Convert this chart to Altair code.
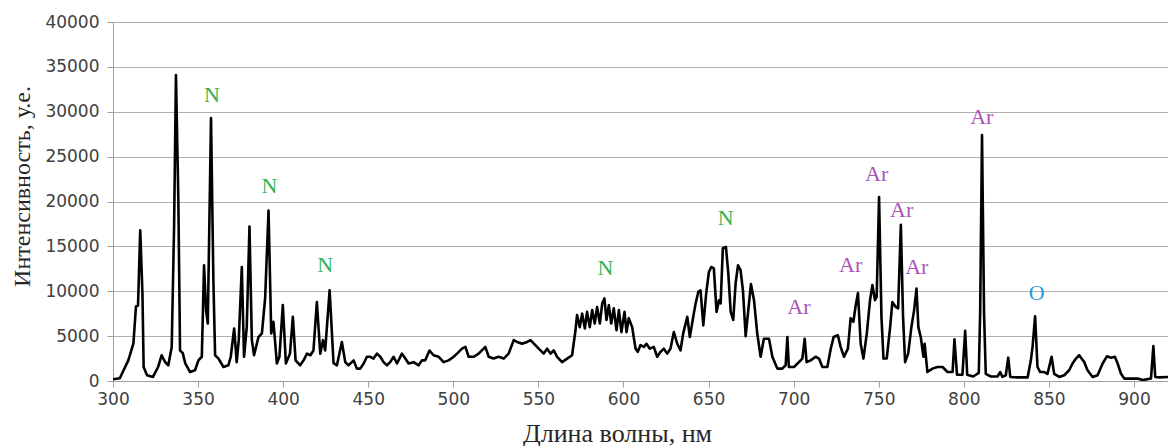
import altair as alt
import pandas as pd

# Spectrum (wavelength in nm, intensity in a.u.)
wavelength = [
    300, 304, 309, 312, 313.5, 314.7, 316, 317.3, 318, 320, 323.5, 326.5, 328.6, 330.6, 332.5,
    334.5, 335.9, 337, 338.4, 339.4, 341, 342.4, 345.3, 348.2, 350.2, 352.2, 353.5, 354.7, 355.7,
    357.6, 359, 360, 362, 364.9, 367.8, 369.2, 371.2, 372.7, 373.9, 375.7, 377, 378.6, 380.2,
    381.6, 382.9, 385.5, 387.5, 389.4, 391.4, 393, 394.3, 396.3, 397.8, 399.8, 401.6, 404, 405.7,
    407.3, 410, 412, 414, 416, 417.8, 419.8, 421.8, 423.4, 424.7, 427.3, 429.6, 431.6, 434.5,
    436.5, 438.4, 441.4, 443.3, 445.3, 447.3, 449.2, 451.2, 453.1, 455.1, 457.1, 459, 461, 462.9,
    464.9, 466.9, 469.8, 471.8, 473.7, 476.7, 479.6, 481.6, 483.5, 486, 488.4, 491.4, 494.3,
    497.2, 500.2, 502.2, 505.1, 507.1, 509, 512, 514.9, 517.8, 518.8, 520.8, 523.7, 526.6, 529.6,
    532.5, 535.5, 537.5, 540.4, 543.4, 545.3, 548.2, 550.2, 553.1, 555.1, 557.1, 559, 561, 563.9,
    566.9, 569.8, 571.8, 572.7, 574.3, 575.7, 577.3, 578.6, 580.2, 581.6, 583.1, 584.5, 586.1,
    587.5, 588.8, 590, 591.4, 592.8, 594.3, 595.9, 597.3, 598.8, 600.6, 601.8, 603.1, 605.1,
    607.1, 608.4, 610, 612, 613.5, 615.5, 617.8, 619.8, 621.8, 623.7, 625.7, 627.6, 629.6, 631.6,
    633.5, 635.1, 637.5, 639, 641, 642.4, 644, 645.3, 646.9, 648.6, 650.2, 651.6, 653.1, 654.7,
    656.1, 657.1, 658.4, 660.2, 661.6, 663, 664.5, 665.9, 667.3, 668.8, 670.2, 671.8, 674.9,
    676.7, 678.6, 680.6, 682.5, 685.5, 687.5, 690.4, 693.3, 695.3, 696.3, 697.2, 700.2, 703.1,
    705.1, 706.5, 707.6, 710, 712.9, 714.9, 716.9, 719.8, 721.8, 723.5, 726, 727.6, 729.6, 731.9,
    733.5, 735.1, 736.5, 737.8, 739.4, 741, 743, 744.9, 746.3, 747.8, 748.8, 750.2, 751.6, 752.8,
    754.7, 756.7, 758, 760, 761.4, 763, 764.3, 765.5, 767.3, 769.2, 770.8, 772.2, 773.3, 774.7,
    776.3, 777, 778.6, 781.6, 784.5, 787.5, 790.4, 793.4, 794.5, 796, 799.2, 800.8, 802, 805.5,
    808.8, 809.6, 810.7, 811.9, 812.9, 815.9, 819.8, 821.4, 822.7, 824.7, 826.1, 827.3, 831.6,
    837.5, 839.4, 840.4, 841.9, 843.3, 844.9, 847.3, 849.2, 851.6, 853.1, 856.1, 859, 861.9,
    863.9, 865.9, 867.8, 869.2, 870.8, 872.7, 875.7, 878.6, 881.6, 884.1, 886.5, 888.8, 890.4,
    892.4, 894.3, 902.2, 905.1, 910, 911.4, 912.5, 914.9, 920,
]
intensity = [
    200, 300, 2300, 4200, 8300, 8400, 16800, 9800, 1560, 640, 450, 1560, 2870, 2120, 1750,
    3800, 17200, 34100, 20200, 3400, 3100, 2000, 1000, 1200, 2300, 2700, 12900, 7900, 6400,
    29300, 11200, 2870, 2500, 1560, 1750, 2700, 5850, 2100, 4550, 12700, 2700, 6000, 17200,
    4550, 2870, 4900, 5300, 9200, 19000, 5300, 6600, 1950, 2700, 8450, 1950, 3050, 7150,
    2300, 1750, 2300, 3050, 2870, 3400, 8800, 3050, 4550, 3400, 10100, 2000, 1750, 4350,
    2100, 1750, 2300, 1380, 1380, 1950, 2700, 2700, 2500, 3050, 2700, 2100, 1750, 2100,
    2700, 1950, 3050, 2500, 1950, 2100, 1750, 2300, 2300, 3400, 2870, 2700, 2100,
    2300, 2700, 3050, 3600, 3800, 2700, 2700, 3050, 3600, 3800, 2700, 2500, 2700, 2500,
    3050, 4550, 4350, 4150, 4350, 4550, 4000, 3600, 3050, 3600, 3050, 3400, 2700, 2100,
    2500, 2870, 5650, 7350, 6000, 7500, 5850, 7700, 6000, 7900, 6400, 8250, 6400,
    8650, 9200, 6800, 8450, 6400, 8100, 5650, 7900, 5450, 7700, 5450, 7000, 6000,
    3600, 3250, 4000, 3800, 4150, 3600, 3800, 2700, 3250, 3600, 3050, 3600, 5450, 4150,
    3400, 5300, 7150, 4900, 7150, 8650, 9950, 10100, 6200, 9750, 12150, 12700, 12550, 7700,
    9000, 8650, 14800, 14950, 12000, 7700, 6800, 10900, 12900, 12350, 10100, 5000, 10800,
    9000, 5300, 2700, 4700, 4700, 2700, 1380, 1380, 1750, 4900, 1560, 1560, 2100,
    2500, 4700, 2100, 2300, 2700, 2500, 1560, 1560, 3600, 4900, 5100, 3800, 2700, 3600,
    7000, 6600, 8450, 9800, 4150, 2500, 5300, 9000, 10700, 9000, 9400, 20500, 7150, 2500,
    2500, 6000, 8800, 8250, 8100, 17400, 7150, 2100, 3050, 6000, 7900, 10300, 6000, 4900,
    2700, 4150, 1000, 1380, 1560, 1560, 1000, 1000, 4650, 700, 700, 5600, 700, 500,
    900, 7500, 27400, 7500, 800, 500, 500, 1000, 450, 640, 2600, 450, 400,
    400, 2300, 3800, 7200, 1560, 1000, 1000, 800, 2700, 800, 450, 640, 1200,
    1950, 2500, 2870, 2500, 2100, 1200, 450, 640, 1950, 2750, 2600, 2700, 1950,
    800, 270, 270, 100, 270, 3900, 450, 400, 450,
]

# Line identifications
label_text = ["N", "N", "N", "N", "N", "Ar", "Ar", "Ar", "Ar", "Ar", "Ar", "O"]
label_element = ["N", "N", "N", "N", "N", "Ar", "Ar", "Ar", "Ar", "Ar", "Ar", "O"]
label_wavelength = [358.1, 392, 424.7, 589.4, 660, 703.1, 733.5, 748.8, 763.5, 772.4, 810.6, 842.9]
label_intensity = [31880, 21730, 12900, 12540, 18120, 8190, 12910, 23070, 19050, 12720, 29400, 9820]

x_ticks = list(range(300, 901, 50))
y_ticks = list(range(0, 40001, 5000))

spec = pd.DataFrame({"wl": wavelength, "val": intensity})
labels = pd.DataFrame({"wl": label_wavelength, "val": label_intensity,
                       "txt": label_text, "el": label_element})

x_scale = alt.Scale(domain=[300, 920], nice=False, zero=False)
y_scale = alt.Scale(domain=[0, 40000], nice=False)

line = alt.Chart(spec).mark_line(color="black", strokeWidth=2.6, clip=True,
                                 strokeJoin="round").encode(
    x=alt.X("wl:Q", scale=x_scale,
            axis=alt.Axis(values=x_ticks, title="Длина волны, нм", grid=False,
                          labelFlush=False, labelOverlap=False, format="d",
                          titleX=504, titleY=60, titleBaseline="alphabetic",
                          titleFontSize=26, labelPadding=4)),
    y=alt.Y("val:Q", scale=y_scale,
            axis=alt.Axis(values=y_ticks, title="Интенсивность, у.е.", grid=True,
                          format="d", labelFlush=False, labelOverlap=False,
                          titleX=-91, titleY=164, titleAngle=270,
                          titleBaseline="middle", titleAlign="center", labelPadding=8)),
)

text = alt.Chart(labels).mark_text(font="Liberation Serif", fontSize=22,
                                    baseline="middle", align="center").encode(
    x=alt.X("wl:Q", scale=x_scale),
    y=alt.Y("val:Q", scale=y_scale),
    text="txt:N",
    color=alt.Color("el:N", scale=alt.Scale(domain=["N", "Ar", "O"],
                                            range=["#33b34f", "#ab52b8", "#2a9dd8"]),
                    legend=None),
)

chart = (line + text).properties(
    width=1055, height=359,
    autosize=alt.AutoSizeParams(type="none"),
    padding={"left": 113, "top": 22, "right": 0, "bottom": 65},
    background="white",
).configure_view(stroke=None).configure_axis(
    labelFont="DejaVu Sans", labelFontSize=17, labelColor="#404040",
    titleFont="Liberation Serif", titleFontSize=24, titleColor="#262626", titleFontWeight="normal",
    domainColor="#a0a0a0", tickColor="#a0a0a0", tickSize=6,
    gridColor="#b0b0b0", gridWidth=1,
)

chart.save("out.html", embed_options={"renderer": "svg", "actions": False})
